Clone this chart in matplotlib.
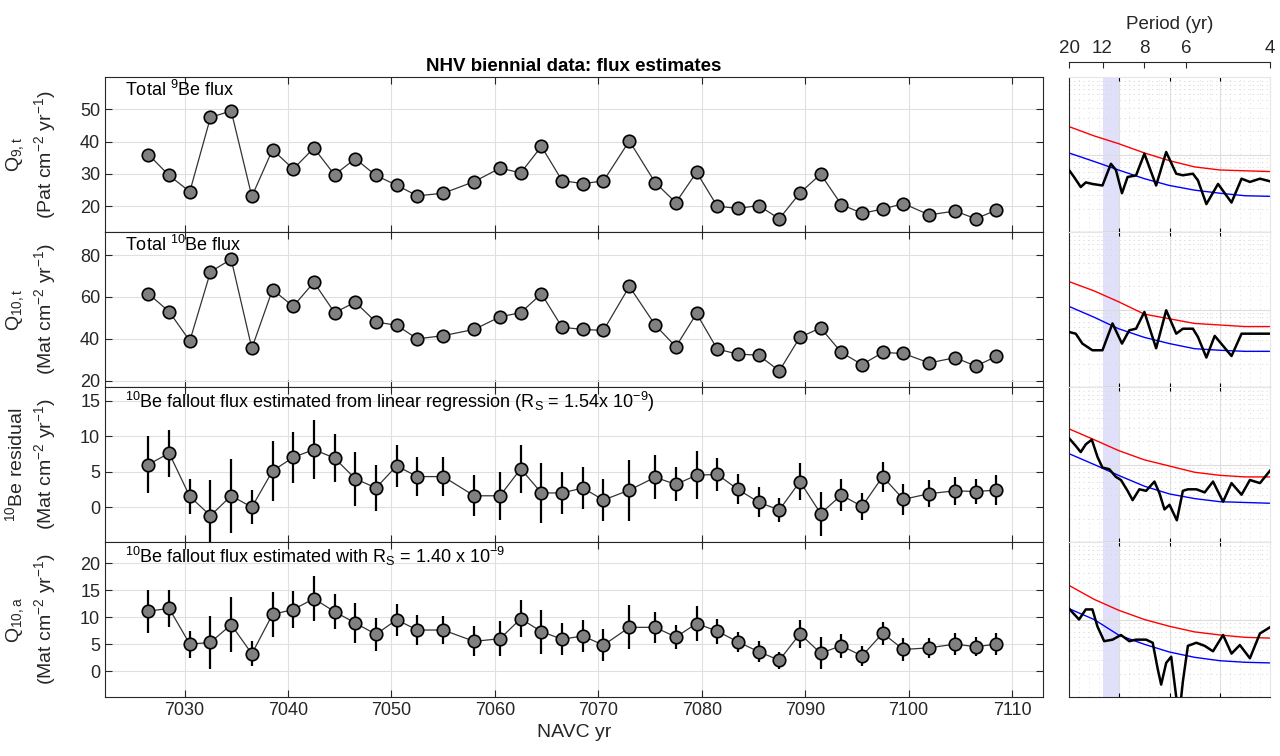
import numpy as np
import matplotlib
matplotlib.use("Agg")
import matplotlib.pyplot as plt

plt.rcParams['font.family'] = ['Liberation Sans', 'DejaVu Sans']
plt.rcParams['mathtext.default'] = 'regular'
plt.rcParams['font.size'] = 11.5

years = [7026.5, 7028.5, 7030.5, 7032.5, 7034.5, 7036.5, 7038.5, 7040.5, 7042.5, 7044.5,
         7046.5, 7048.5, 7050.5, 7052.5, 7055, 7058, 7060.5, 7062.5, 7064.5, 7066.5,
         7068.5, 7070.5, 7073, 7075.5, 7077.5, 7079.5, 7081.5, 7083.5, 7085.5, 7087.5,
         7089.5, 7091.5, 7093.5, 7095.5, 7097.5, 7099.5, 7102, 7104.5, 7106.5, 7108.5]
q9 = [36, 29.5, 24.5, 47.5, 49.5, 23, 37.5, 31.5, 38, 29.7, 34.7, 29.5, 26.5, 23.2, 24,
      27.6, 31.8, 30.3, 38.5, 27.9, 27, 27.8, 40.2, 27.3, 21.1, 30.5, 20, 19.3, 20.2, 16.1,
      24.1, 29.9, 20.5, 17.8, 19.1, 20.8, 17.3, 18.5, 16.1, 18.8]
q10 = [61.5, 53, 39, 72, 78, 35.5, 63.5, 55.5, 67, 52.5, 57.5, 48, 46.5, 40, 41.5, 44.5,
       50.5, 52.5, 61.5, 45.5, 44.5, 44, 65, 46.6, 36.2, 52.1, 35.1, 32.7, 32.2, 24.7,
       40.8, 45.2, 33.5, 27.7, 33.5, 33, 28.5, 31, 27, 31.6]
resid = [6, 7.6, 1.5, -1.2, 1.6, 0, 5.1, 7, 8.1, 6.9, 4, 2.7, 5.8, 4.3, 4.3, 1.6, 1.6, 5.4,
         2, 2, 2.7, 1, 2.4, 4.2, 3.2, 4.5, 4.6, 2.5, 0.7, -0.4, 3.6, -0.9, 1.7, 0.1, 4.3,
         1.1, 1.9, 2.3, 2.2, 2.4]
resid_err = [4, 3.3, 2.5, 5, 5.2, 2.4, 4.2, 3.6, 4.2, 3.4, 3.8, 3.2, 3, 2.7, 2.7, 2.9, 3.4,
             3.4, 4.2, 3, 3, 2.9, 4.3, 3.1, 2.4, 3.4, 2.3, 2.1, 2.1, 1.7, 2.6, 3.1, 2.2, 1.9,
             2.1, 2.2, 1.9, 2, 1.8, 2.1]
q10a = [11.1, 11.6, 5, 5.3, 8.6, 3.2, 10.5, 11.4, 13.4, 11, 8.9, 6.8, 9.5, 7.6, 7.6, 5.5,
        6, 9.7, 7.3, 5.9, 6.5, 4.8, 8.1, 8.1, 6.3, 8.8, 7.4, 5.4, 3.6, 2, 6.9, 3.3, 4.7,
        2.8, 7, 4, 4.3, 5, 4.5, 5]
q10a_err = [4, 3.4, 2.5, 4.9, 5.1, 2.3, 4.2, 3.5, 4.2, 3.3, 3.7, 3.1, 3, 2.7, 2.6, 2.8,
            3.3, 3.4, 4.1, 3, 3, 2.9, 4.1, 2.9, 2.3, 3.2, 2.3, 1.9, 2, 1.6, 2.6, 3, 2.2,
            1.9, 2.1, 2.2, 1.9, 2.1, 1.8, 2.1]

# spectra (frequency in 1/yr, normalized log power 0..1 of panel)
f_lim = [0.05, 0.075, 0.0993, 0.125, 0.15, 0.175, 0.2003, 0.225, 0.25]
red = [[0.68, 0.62, 0.57, 0.51, 0.46, 0.42, 0.40, 0.395, 0.39],
       [0.68, 0.62, 0.55, 0.47, 0.44, 0.41, 0.40, 0.39, 0.39],
       [0.73, 0.66, 0.59, 0.53, 0.49, 0.45, 0.43, 0.42, 0.42],
       [0.72, 0.63, 0.56, 0.50, 0.456, 0.42, 0.40, 0.385, 0.38]]
blue = [[0.51, 0.455, 0.40, 0.344, 0.30, 0.27, 0.25, 0.234, 0.23],
        [0.52, 0.45, 0.376, 0.32, 0.28, 0.247, 0.237, 0.23, 0.23],
        [0.57, 0.50, 0.43, 0.36, 0.31, 0.28, 0.26, 0.255, 0.25],
        [0.57, 0.50, 0.40, 0.34, 0.29, 0.256, 0.234, 0.224, 0.22]]
f1 = [0.05, 0.055, 0.0617, 0.0667, 0.0733, 0.0833, 0.0917, 0.0967, 0.1027, 0.1083, 0.1167,
      0.125, 0.1367, 0.1467, 0.1567, 0.1633, 0.1733, 0.1783, 0.1867, 0.1983, 0.2117,
      0.2217, 0.23, 0.24, 0.25]
s1 = [0.40, 0.355, 0.29, 0.32, 0.31, 0.30, 0.44, 0.40, 0.25, 0.355, 0.365, 0.505, 0.30,
      0.516, 0.376, 0.366, 0.376, 0.333, 0.18, 0.31, 0.19, 0.344, 0.323, 0.344, 0.327]
f2 = [0.05, 0.0567, 0.0633, 0.0733, 0.0833, 0.0933, 0.1027, 0.11, 0.1167, 0.125, 0.1367,
      0.1467, 0.1567, 0.1633, 0.1733, 0.1783, 0.1867, 0.195, 0.2117, 0.2217, 0.2333, 0.25]
s2 = [0.355, 0.344, 0.28, 0.237, 0.237, 0.41, 0.28, 0.366, 0.376, 0.484, 0.25, 0.495,
      0.344, 0.376, 0.376, 0.323, 0.19, 0.33, 0.20, 0.344, 0.344, 0.344]
f3 = [0.05, 0.0567, 0.0617, 0.0667, 0.0727, 0.0783, 0.0833, 0.09, 0.0967, 0.1017, 0.1083,
      0.1133, 0.12, 0.1267, 0.135, 0.14, 0.145, 0.15, 0.1573, 0.1633, 0.1683, 0.1767,
      0.185, 0.1933, 0.2033, 0.2117, 0.2217, 0.23, 0.24, 0.25]
s3 = [0.67, 0.62, 0.58, 0.63, 0.66, 0.55, 0.48, 0.47, 0.42, 0.40, 0.33, 0.27, 0.34, 0.33,
      0.39, 0.315, 0.21, 0.24, 0.14, 0.33, 0.34, 0.34, 0.32, 0.39, 0.26, 0.38, 0.305,
      0.40, 0.38, 0.46]
f4 = [0.05, 0.06, 0.0667, 0.0733, 0.0783, 0.085, 0.0933, 0.1017, 0.11, 0.1167, 0.1267,
      0.1333, 0.1383, 0.1417, 0.1467, 0.1517, 0.1567, 0.16, 0.1633, 0.1683, 0.1767,
      0.185, 0.1933, 0.2033, 0.2117, 0.22, 0.23, 0.24, 0.25]
s4 = [0.57, 0.50, 0.565, 0.565, 0.455, 0.36, 0.37, 0.40, 0.36, 0.37, 0.37, 0.35, 0.18,
      0.08, 0.22, 0.26, 0.0, -0.1, 0.10, 0.33, 0.35, 0.33, 0.295, 0.40, 0.28, 0.335,
      0.25, 0.41, 0.45]
f_spec = [f1, f2, f3, f4]
s_spec = [s1, s2, s3, s4]

ylims = [(12, 60), (17, 91), (-4.9, 16.9), (-4.8, 23.9)]
yticks = [[20, 30, 40, 50], [20, 40, 60, 80], [0, 5, 10, 15], [0, 5, 10, 15, 20]]
ylabels = ['Q$_{9,t}$\n(Pat cm$^{-2}$ yr$^{-1}$)',
           'Q$_{10,t}$\n(Mat cm$^{-2}$ yr$^{-1}$)',
           '$^{10}$Be residual\n(Mat cm$^{-2}$ yr$^{-1}$)',
           'Q$_{10,a}$\n(Mat cm$^{-2}$ yr$^{-1}$)']
labels = ['Total $^{9}$Be flux', 'Total $^{10}$Be flux',
          '$^{10}$Be fallout flux estimated from linear regression (R$_S$ = 1.54x 10$^{-9}$)',
          '$^{10}$Be fallout flux estimated with R$_S$ = 1.40 x 10$^{-9}$']
series = [q9, q10, resid, q10a]
errs = [None, None, resid_err, q10a_err]
period_ticks = [20, 12, 8, 6, 4]

fig = plt.figure(figsize=(12.8, 7.56), dpi=100)
H = 155 / 756
bottoms = [1 - 232 / 756, 1 - 387 / 756, 1 - 542 / 756, 1 - 697 / 756]
spine_c = '#262626'
for i in range(4):
    ax = fig.add_axes([105 / 1280, bottoms[i], 938 / 1280, H])
    ax.set_xlim(7022.3, 7113)
    ax.set_ylim(*ylims[i])
    ax.set_yticks(yticks[i])
    ax.set_xticks(range(7030, 7111, 10))
    ax.grid(True, color='#e0e0e0', lw=0.8)
    ax.set_axisbelow(True)
    ax.tick_params(direction='in', top=True, right=True, length=5, color=spine_c,
                   labelsize=13, labelcolor='#262626')
    for s in ax.spines.values():
        s.set_color(spine_c)
    if errs[i] is not None:
        ax.errorbar(years, series[i], yerr=errs[i], fmt='none', ecolor='black',
                    elinewidth=1.6, capsize=0, zorder=2)
    ax.plot(years, series[i], '-', color='#333333', lw=0.9, zorder=3)
    ax.plot(years, series[i], 'o', ms=9, mfc='#808080', mec='black', mew=1.2, zorder=4)
    ax.text(0.021, 0.98, labels[i], transform=ax.transAxes, ha='left', va='top',
            fontsize=13)
    ax.set_ylabel(ylabels[i], fontsize=14, color='#262626', linespacing=1.3)
    ax.yaxis.set_label_coords(-0.05, 0.5)
    if i < 3:
        ax.set_xticklabels([])
    else:
        ax.set_xlabel('NAVC yr', fontsize=14, color='#262626')
    if i == 0:
        ax.set_title('NHV biennial data: flux estimates', fontsize=13.5, fontweight='bold',
                     pad=4)

    axr = fig.add_axes([1069 / 1280, bottoms[i], 201 / 1280, H])
    axr.set_xlim(0.05, 0.25)
    axr.set_ylim(0, 1)
    axr.axvspan(1 / 12, 1 / 10.07, color='#e0e0fa', lw=0, zorder=0)
    for fx in [0.1, 0.15, 0.2]:
        axr.axvline(fx, color='#dddddd', lw=0.8, zorder=0.5)
    for fx in np.arange(0.06, 0.25, 0.01):
        axr.axvline(fx, color='#e2e2e2', lw=0.6, ls=(0, (1.5, 4)), zorder=0.5)
    axr.axhline(0.5, color='#dddddd', lw=0.8, zorder=0.5)
    for base in [0.0, 0.5]:
        for k in range(2, 10):
            axr.axhline(base + np.log10(k) / 2, color='#d8d8d8', lw=0.6, ls=(0, (1.5, 4)),
                        zorder=0.5)
    axr.plot(f_lim, red[i], color='red', lw=1.0, zorder=2)
    axr.plot(f_lim, blue[i], color='blue', lw=1.0, zorder=2)
    axr.plot(f_spec[i], s_spec[i], color='black', lw=1.8, zorder=3)
    axr.set_xticks([0.1, 0.15, 0.2])
    axr.set_xticklabels([])
    axr.set_yticks([])
    axr.tick_params(direction='in', length=3, top=True)
    axr.spines['left'].set_color(spine_c)
    axr.spines['bottom'].set_color(spine_c)
    axr.spines['top'].set_color('#e6e6e6')
    axr.spines['right'].set_color('#e6e6e6')
    if i == 0:
        sec = axr.secondary_xaxis(1.097)
        sec.set_xticks([1 / p for p in period_ticks])
        sec.set_xticklabels([str(p) for p in period_ticks], fontsize=13.5)
        sec.tick_params(direction='in', length=4, color=spine_c, labelcolor='#262626')
        sec.spines['top'].set_color(spine_c)
        sec.set_xlabel('Period (yr)', fontsize=13.5, color='#262626', labelpad=8)

fig.savefig('out.png', dpi=100)
